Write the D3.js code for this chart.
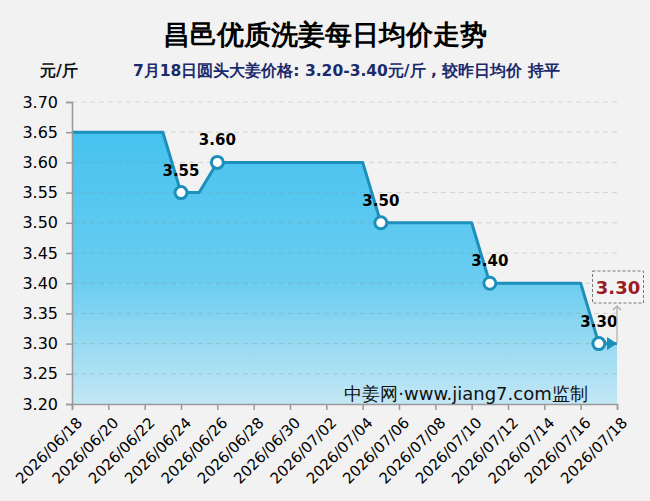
<!DOCTYPE html>
<html>
<head>
<meta charset="utf-8">
<script src="https://cdn.jsdelivr.net/npm/d3@7"></script>
<style>
  body { margin: 0; background: #f2f2f2; }
  svg { display: block; font-family: "DejaVu Sans", sans-serif; }
</style>
</head>
<body>
<div id="chart-area"></div>
<script>
// daily average price, 2026/06/18 - 2026/07/18
const dates = [
    "2026/06/18", "2026/06/19", "2026/06/20", "2026/06/21", "2026/06/22", "2026/06/23",
    "2026/06/24", "2026/06/25", "2026/06/26", "2026/06/27", "2026/06/28", "2026/06/29",
    "2026/06/30", "2026/07/01", "2026/07/02", "2026/07/03", "2026/07/04", "2026/07/05",
    "2026/07/06", "2026/07/07", "2026/07/08", "2026/07/09", "2026/07/10", "2026/07/11",
    "2026/07/12", "2026/07/13", "2026/07/14", "2026/07/15", "2026/07/16", "2026/07/17",
    "2026/07/18"
];
const prices = [
    3.65, 3.65, 3.65, 3.65, 3.65, 3.65,
    3.55, 3.55, 3.60, 3.60, 3.60, 3.60,
    3.60, 3.60, 3.60, 3.60, 3.60, 3.50,
    3.50, 3.50, 3.50, 3.50, 3.50, 3.40,
    3.40, 3.40, 3.40, 3.40, 3.40, 3.30,
    3.30
];
const yTicks = [3.20, 3.25, 3.30, 3.35, 3.40, 3.45, 3.50, 3.55, 3.60, 3.65, 3.70];
const title = "昌邑优质洗姜每日均价走势";
const subtitle = "7月18日圆头大姜价格: 3.20-3.40元/斤 , 较昨日均价 持平";
const unit = "元/斤";
const watermark = "中姜网·www.jiang7.com监制";
const latest = "3.30";

const parse = d3.timeParse("%Y/%m/%d");
const fmt = d3.timeFormat("%Y/%m/%d");
const data = dates.map((d, i) => ({date: parse(d), value: prices[i]}));

const W = 650, H = 501;
const margin = {left: 72, right: 617, top: 102, bottom: 404};

const x = d3.scaleTime()
    .domain(d3.extent(data, d => d.date))
    .range([margin.left, margin.right]);
const y = d3.scaleLinear().domain([3.2, 3.7]).range([margin.bottom, margin.top]);

const svg = d3.select("#chart-area").append("svg")
    .attr("width", W)
    .attr("height", H);

svg.append("rect").attr("width", W).attr("height", H).attr("fill", "#f2f2f2");

const defs = svg.append("defs");
const grad = defs.append("linearGradient")
    .attr("id", "areaFill")
    .attr("gradientUnits", "userSpaceOnUse")
    .attr("x1", 0).attr("x2", 0)
    .attr("y1", y(3.65)).attr("y2", margin.bottom);
grad.append("stop").attr("offset", "0%").attr("stop-color", "#46c2ef");
grad.append("stop").attr("offset", "55%").attr("stop-color", "#6acdf0");
grad.append("stop").attr("offset", "100%").attr("stop-color", "#c3e7f5");

defs.append("marker")
    .attr("id", "arrowEnd")
    .attr("viewBox", "0 0 10 13")
    .attr("refX", 10).attr("refY", 6.5)
    .attr("markerUnits", "userSpaceOnUse")
    .attr("markerWidth", 10).attr("markerHeight", 13)
    .attr("orient", "auto")
  .append("path")
    .attr("d", "M0,0 L10,6.5 L0,13 Z")
    .attr("fill", "#1c8fba");

defs.append("marker")
    .attr("id", "greyArrow")
    .attr("viewBox", "0 0 10 10")
    .attr("refX", 5).attr("refY", 5)
    .attr("markerUnits", "userSpaceOnUse")
    .attr("markerWidth", 10).attr("markerHeight", 10)
    .attr("orient", "auto")
  .append("path")
    .attr("d", "M1,1 L5,5 L1,9")
    .attr("fill", "none")
    .attr("stroke", "#aaa")
    .attr("stroke-width", 1.2);

// titles
svg.append("text")
    .attr("x", 325).attr("y", 44)
    .attr("text-anchor", "middle")
    .attr("font-size", "27px")
    .attr("font-weight", "bold")
    .attr("fill", "#000")
    .text(title);
svg.append("text")
    .attr("x", 40).attr("y", 76)
    .attr("font-size", "16px")
    .attr("font-weight", "bold")
    .attr("fill", "#111")
    .text(unit);
svg.append("text")
    .attr("x", 133).attr("y", 76)
    .attr("font-size", "15.5px")
    .attr("font-weight", "bold")
    .attr("fill", "#1b2a6b")
    .text(subtitle);

// area + line
const area = d3.area()
    .x(d => x(d.date))
    .y0(margin.bottom)
    .y1(d => y(d.value));
svg.append("path")
    .datum(data)
    .attr("d", area)
    .attr("fill", "url(#areaFill)");

// grid
svg.append("g")
    .selectAll("line")
    .data(yTicks.slice(1))
    .enter().append("line")
    .attr("x1", margin.left).attr("x2", margin.right)
    .attr("y1", d => y(d)).attr("y2", d => y(d))
    .attr("stroke", "rgba(140,140,140,0.3)")
    .attr("stroke-dasharray", "5,4");

const line = d3.line()
    .x(d => x(d.date))
    .y(d => y(d.value));
svg.append("path")
    .datum(data)
    .attr("d", line)
    .attr("fill", "none")
    .attr("stroke", "#1c8fba")
    .attr("stroke-width", 3)
    .attr("stroke-linejoin", "round")
    .attr("marker-end", "url(#arrowEnd)");

// axes
const yAxis = svg.append("g")
    .attr("transform", "translate(" + margin.left + ",0)")
    .call(d3.axisLeft(y).tickValues(yTicks).tickSize(6).tickPadding(8).tickFormat(d3.format(".2f")));
const xTicks = data.filter((d, i) => i % 2 === 0).map(d => d.date);
const xAxis = svg.append("g")
    .attr("transform", "translate(0," + margin.bottom + ")")
    .call(d3.axisBottom(x).tickValues(xTicks).tickSize(6).tickFormat(fmt));
[yAxis, xAxis].forEach(g => {
    g.select(".domain").attr("stroke", "#999").attr("stroke-width", 1.5);
    g.selectAll(".tick line").attr("stroke", "#999").attr("stroke-width", 1.5);
});
yAxis.selectAll("text")
    .attr("font-size", "16px")
    .attr("font-family", "DejaVu Sans")
    .attr("fill", "#000");
xAxis.selectAll("text")
    .attr("font-size", "15px")
    .attr("font-family", "DejaVu Sans")
    .attr("fill", "#000")
    .attr("text-anchor", "end")
    .attr("dy", "0.35em")
    .attr("transform", "translate(7,16) rotate(-45)")
    .attr("x", 0).attr("y", 0);

// watermark
svg.append("text")
    .attr("x", 466).attr("y", 400)
    .attr("text-anchor", "middle")
    .attr("font-size", "18px")
    .attr("fill", "#111")
    .text(watermark);

// change-point markers and labels
const changes = data.filter((d, i) => i > 0 && d.value !== data[i - 1].value);
svg.append("g").selectAll("circle")
    .data(changes)
    .enter().append("circle")
    .attr("cx", d => x(d.date))
    .attr("cy", d => y(d.value))
    .attr("r", 6)
    .attr("fill", "#fff")
    .attr("stroke", "#1c8fba")
    .attr("stroke-width", 3);
svg.append("g").selectAll("text")
    .data(changes)
    .enter().append("text")
    .attr("x", d => x(d.date))
    .attr("y", d => y(d.value) - 17)
    .attr("text-anchor", "middle")
    .attr("font-size", "15px")
    .attr("font-weight", "bold")
    .attr("fill", "#000")
    .text(d => d3.format(".2f")(d.value));

// latest value callout
const last = data[data.length - 1];
svg.append("line")
    .attr("x1", x(last.date)).attr("x2", x(last.date))
    .attr("y1", y(last.value)).attr("y2", 306)
    .attr("stroke", "#aaa")
    .attr("stroke-width", 1.2)
    .attr("marker-end", "url(#greyArrow)");
svg.append("rect")
    .attr("x", 592.5).attr("y", 271)
    .attr("width", 51).attr("height", 32)
    .attr("fill", "#f4f4f4")
    .attr("stroke", "#777")
    .attr("stroke-dasharray", "3,2");
svg.append("text")
    .attr("x", 618).attr("y", 294)
    .attr("text-anchor", "middle")
    .attr("font-size", "18px")
    .attr("font-weight", "bold")
    .attr("fill", "#9a1b24")
    .text(latest);
</script>
</body>
</html>
